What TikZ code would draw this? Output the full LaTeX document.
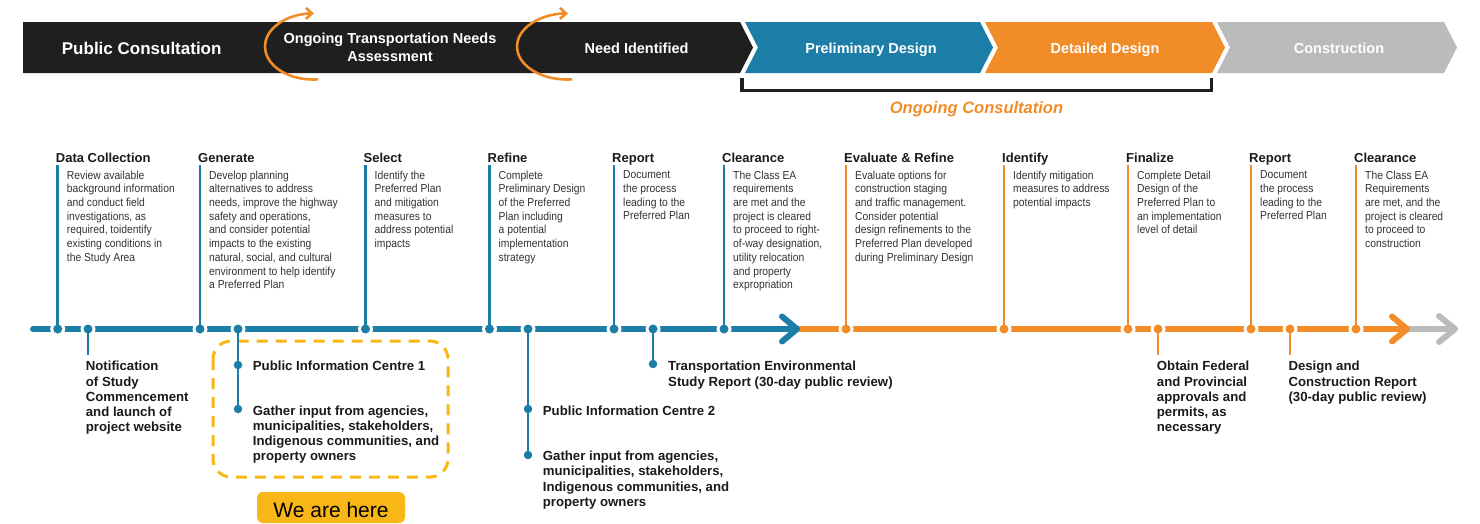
\documentclass[tikz,border=0pt]{standalone}
\usepackage{fontspec}
\setmainfont{Liberation Sans}
\newfontfamily\descfont[FakeStretch=0.89]{Liberation Sans}
\usetikzlibrary{arrows.meta}
\definecolor{bannerblack}{HTML}{1F1F1F}
\definecolor{tlblue}{HTML}{1C7DA6}
\definecolor{tlorange}{HTML}{F28C28}
\definecolor{tlgray}{HTML}{BBBBBB}
\definecolor{hereyellow}{HTML}{F9B717}
\definecolor{desctext}{HTML}{333333}
\definecolor{headtext}{HTML}{1A1A1A}
\tikzset{
  bannertext/.style={text=white, font=\bfseries\fontsize{14.5}{17.7}\selectfont, inner sep=0, anchor=base, align=center},
  headlbl/.style={font=\bfseries\fontsize{13}{15}\selectfont, text=headtext, inner sep=0, anchor=base west},
  desclbl/.style={font=\descfont\fontsize{11.6}{13.7}\selectfont, text=desctext, inner sep=0, anchor=north west, align=left},
  lowlbl/.style={font=\bfseries\fontsize{13.2}{15.3}\selectfont, text=headtext, inner sep=0, anchor=north west, align=left},
  halo/.style={circle, fill=white, inner sep=0, minimum size=15},
  dotnode/.style={circle, fill=#1, inner sep=0, minimum size=9},
  smalldot/.style={circle, fill=#1, inner sep=0, minimum size=8.5},
  stemline/.style={line width=2.8},
  tlline/.style={line width=6},
  tlwing/.style={line width=6, line cap=round, line join=round},
  loopline/.style={draw=tlorange, line width=2.6, -{Straight Barb[length=6pt,width=11pt,line width=2.6pt]}}
}
\newcommand\upevent[5]{%
  \node[halo] (#1o) at (#2,329) {};
  \node[dotnode=#3] (#1d) at (#2,329) {};
  \coordinate (#1t) at (#2,165);
  \draw[stemline,draw=#3] (#1d.center) -- (#1t);
  \node[headlbl] (#1h) at ({#2-2},162) {#4};
  \node[desclbl] (#1x) at ({#2+9},170.5) {#5};
}
\newcommand\lowdot[3]{%
  \node[halo] (#1o) at (#2,329) {};
  \node[dotnode=#3] (#1d) at (#2,329) {};
}
\begin{document}
\begin{tikzpicture}[x=1pt,y=-1pt]
\useasboundingbox (0,0) rectangle (1480,523);
\fill[white] (0,0) rectangle (1480,523);
% ---------- banner ----------
\fill[bannerblack] (23,22) -- (740,22) -- (753,47.5) -- (740,73) -- (23,73) -- cycle;
\fill[tlblue] (745,22) -- (980,22) -- (993,47.5) -- (980,73) -- (745,73) -- (758,47.5) -- cycle;
\fill[tlorange] (985,22) -- (1212,22) -- (1225,47.5) -- (1212,73) -- (985,73) -- (998,47.5) -- cycle;
\fill[tlgray] (1217,22) -- (1444,22) -- (1457,47.5) -- (1444,73) -- (1217,73) -- (1230,47.5) -- cycle;
\node[bannertext, font=\bfseries\fontsize{17}{20}\selectfont] (bpc) at (141.7,54) {Public Consultation};
\node[bannertext, anchor=north] (bon) at (390,33) {Ongoing Transportation Needs\\Assessment};
\node[bannertext] (bni) at (636.5,53.3) {Need Identified};
\node[bannertext] (bpd) at (871,53.3) {Preliminary Design};
\node[bannertext] (bdd) at (1105,53.3) {Detailed Design};
\node[bannertext] (bco) at (1339,53.3) {Construction};
\draw[loopline] (313,46.5) ++(84:48 and 33) arc[start angle=84, end angle=271, x radius=48, y radius=33];
\draw[loopline] (567,46.5) ++(84:50 and 33) arc[start angle=84, end angle=271, x radius=50, y radius=33];
\draw[bannerblack, line width=3.5] (742,78) -- (742,90.3) -- (1211.7,90.3) -- (1211.7,78);
\node[font=\bfseries\itshape\fontsize{16.5}{19}\selectfont, text=tlorange, inner sep=0, anchor=base] (ogc) at (976.5,113.3) {Ongoing Consultation};
% ---------- timeline ----------
\coordinate (tla) at (33,329);
\coordinate (tlb) at (797,329);
\coordinate (tlc) at (1407,329);
\coordinate (tld) at (1455,329);
\draw[tlline, tlgray] (tlc) -- (1452,329);
\draw[tlwing, tlgray] (1439,316) -- (tld) -- (1439,342);
\draw[tlline, tlorange] (tlb) -- (1404,329);
\draw[tlwing, tlorange] (1392,316.5) -- (tlc) -- (1392,341.5);
\draw[tlline, tlblue, line cap=round] (tla) -- (794,329);
\draw[tlwing, tlblue] (782,316.5) -- (tlb) -- (782,341.5);
% ---------- upper events ----------
\upevent{dc}{57.7}{tlblue}{Data Collection}{Review available\\background information\\and conduct field\\investigations, as\\required, toidentify\\existing conditions in\\the Study Area}
\upevent{gen}{200}{tlblue}{Generate}{Develop planning\\alternatives to address\\needs, improve the highway\\safety and operations,\\and consider potential\\impacts to the existing\\natural, social, and cultural\\environment to help identify\\a Preferred Plan}
\upevent{sel}{365.5}{tlblue}{Select}{Identify the\\Preferred Plan\\and mitigation\\measures to\\address potential\\impacts}
\upevent{ref}{489.5}{tlblue}{Refine}{Complete\\Preliminary Design\\of the Preferred\\Plan including\\a potential\\implementation\\strategy}
\upevent{rep}{614}{tlblue}{Report}{Document\\the process\\leading to the\\Preferred Plan}
\upevent{clr}{724}{tlblue}{Clearance}{The Class EA\\requirements\\are met and the\\project is cleared\\to proceed to right-\\of-way designation,\\utility relocation\\and property\\expropriation}
\upevent{evr}{846}{tlorange}{Evaluate \& Refine}{Evaluate options for\\construction staging\\and traffic management.\\Consider potential\\design refinements to the\\Preferred Plan developed\\during Preliminary Design}
\upevent{idf}{1004}{tlorange}{Identify}{Identify mitigation\\measures to address\\potential impacts}
\upevent{fin}{1128}{tlorange}{Finalize}{Complete Detail\\Design of the\\Preferred Plan to\\an implementation\\level of detail}
\upevent{rpb}{1251}{tlorange}{Report}{Document\\the process\\leading to the\\Preferred Plan}
\upevent{clb}{1356}{tlorange}{Clearance}{The Class EA\\Requirements\\are met, and the\\project is cleared\\to proceed to\\construction}
% ---------- lower events ----------
\draw[hereyellow, line width=3, dash pattern=on 11pt off 8pt, rounded corners=18] (213,341) rectangle (448,477);
\lowdot{nt}{88}{tlblue}
\coordinate (ntb) at (88,355);
\draw[stemline, tlblue] (ntd.center) -- (ntb);
\node[lowlbl] (ntx) at (85.7,361) {Notification\\of Study\\Commencement\\and launch of\\project website};
\lowdot{pa}{238}{tlblue}
\node[smalldot=tlblue] (pa1) at (238,365) {};
\node[smalldot=tlblue] (pa2) at (238,409) {};
\draw[stemline, tlblue] (pad.center) -- (pa1.center) -- (pa2.center);
\node[lowlbl] (pax) at (252.7,361) {Public Information Centre 1};
\node[lowlbl] (pay) at (252.7,405.3) {Gather input from agencies,\\municipalities, stakeholders,\\Indigenous communities, and\\property owners};
\lowdot{pb}{528}{tlblue}
\node[smalldot=tlblue] (pb1) at (528,409) {};
\node[smalldot=tlblue] (pb2) at (528,455) {};
\draw[stemline, tlblue] (pbd.center) -- (pb1.center) -- (pb2.center);
\node[lowlbl] (pbx) at (542.7,406) {Public Information Centre 2};
\node[lowlbl] (pby) at (542.7,450.7) {Gather input from agencies,\\municipalities, stakeholders,\\Indigenous communities, and\\property owners};
\lowdot{te}{653}{tlblue}
\node[smalldot=tlblue] (te1) at (653,364) {};
\draw[stemline, tlblue] (ted.center) -- (te1.center);
\node[lowlbl] (tex) at (668,361) {Transportation Environmental\\Study Report (30-day public review)};
\lowdot{ob}{1158}{tlorange}
\coordinate (obb) at (1158,355);
\draw[stemline, tlorange] (obd.center) -- (obb);
\node[lowlbl] (obx) at (1156.7,361) {Obtain Federal\\and Provincial\\approvals and\\permits, as\\necessary};
\lowdot{dr}{1290}{tlorange}
\coordinate (drb) at (1290,355);
\draw[stemline, tlorange] (drd.center) -- (drb);
\node[lowlbl] (drx) at (1288.3,361) {Design and\\Construction Report\\(30-day public review)};
% ---------- we are here ----------
\fill[hereyellow, rounded corners=6] (257,523) |- (331,492) -| (405,523) -- cycle;
\node[font=\fontsize{21}{24}\selectfont, text=black, inner sep=0, anchor=base] (here) at (331,517.7) {We are here};
\end{tikzpicture}
\end{document}
